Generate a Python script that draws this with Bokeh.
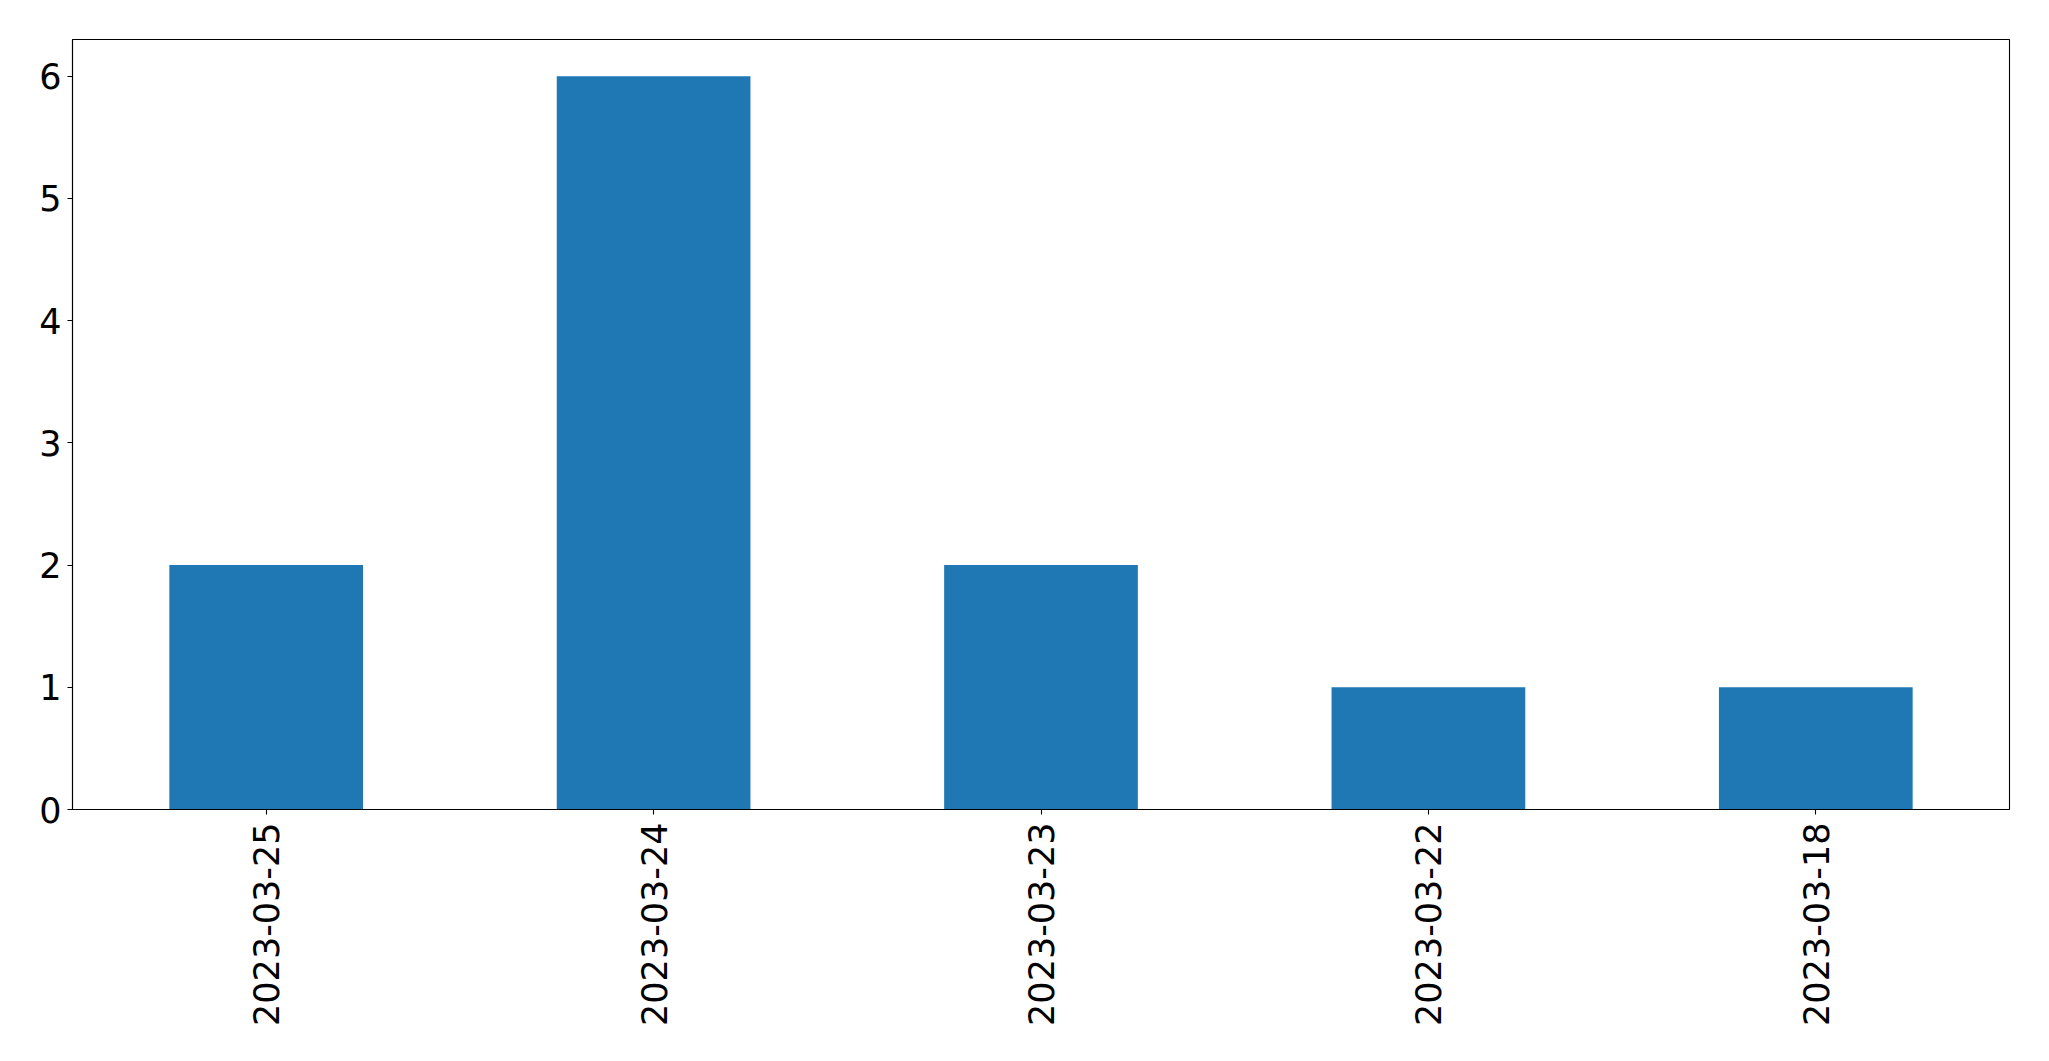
import math
from bokeh.plotting import figure
from bokeh.models import FixedTicker, Range1d, ColumnDataSource
from bokeh.embed import file_html
from bokeh.resources import INLINE

dates = ["2023-03-25", "2023-03-24", "2023-03-23", "2023-03-22", "2023-03-18"]
counts = [2, 6, 2, 1, 1]
y_ticks = [0, 1, 2, 3, 4, 5, 6]

source = ColumnDataSource(dict(dates=dates, counts=counts))

p = figure(x_range=dates, y_range=Range1d(0, 6.3),
           frame_width=1937, frame_height=770,
           min_border_left=72, min_border_top=39, min_border_right=20, min_border_bottom=10,
           output_backend="svg", toolbar_location=None)
p.x_range.range_padding = 0
p.vbar(x="dates", top="counts", width=0.5, source=source,
       fill_color="#1f77b4", line_color=None)

p.xgrid.visible = False
p.ygrid.visible = False
p.outline_line_color = "black"
p.outline_line_width = 1.1
p.outline_line_alpha = 1

for ax in (p.xaxis, p.yaxis):
    ax.axis_line_color = "black"
    ax.axis_line_width = 1.1
    ax.major_tick_line_color = "black"
    ax.major_tick_line_width = 1.1
    ax.major_tick_out = 5
    ax.major_tick_in = 0
    ax.minor_tick_line_color = None
    ax.major_label_text_font = "DejaVu Sans"
    ax.major_label_text_font_size = "35px"
    ax.major_label_text_color = "black"

p.yaxis.ticker = FixedTicker(ticks=y_ticks)
p.yaxis.major_label_standoff = 6
p.xaxis.major_label_orientation = math.pi / 2
p.xaxis.major_label_standoff = 8

open("out.html", "w").write(file_html(p, INLINE))
